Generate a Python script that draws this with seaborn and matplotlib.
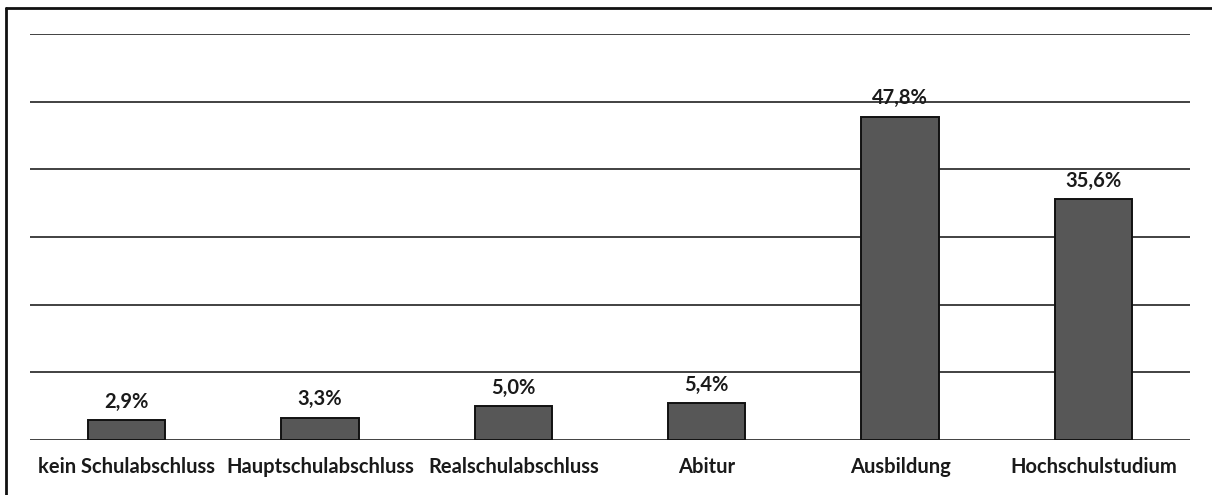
import matplotlib
matplotlib.use("Agg")
import matplotlib.pyplot as plt
from matplotlib.lines import Line2D
import seaborn as sns
import pandas as pd

categories = ["kein Schulabschluss", "Hauptschulabschluss", "Realschulabschluss",
              "Abitur", "Ausbildung", "Hochschulstudium"]
shares = [2.9, 3.3, 5.0, 5.4, 47.8, 35.6]
value_labels = ["2,9%", "3,3%", "5,0%", "5,4%", "47,8%", "35,6%"]

df = pd.DataFrame({"Abschluss": categories, "Anteil": shares})

sns.set_theme(style="white")
plt.rcParams["font.family"] = ["Lato", "DejaVu Sans"]

W, H = 1212, 495
fig = plt.figure(figsize=(W / 100, H / 100), dpi=100)
ax = fig.add_axes([30 / W, (H - 440) / H, 1160 / W, 406 / H])

sns.barplot(data=df, x="Abschluss", y="Anteil", ax=ax, color="#575757",
            width=0.4, edgecolor="#111111", linewidth=1.4, saturation=1)

ax.set_ylim(0, 60)
ax.set_xlim(-0.5, len(categories) - 0.5)
ax.set_yticks(range(0, 61, 10))
ax.yaxis.grid(True, color="#333333", linewidth=1.3)
ax.set_axisbelow(True)
ax.set_yticklabels([])
ax.tick_params(axis="y", length=0)
ax.tick_params(axis="x", length=0, pad=12, labelsize=14.5, labelcolor="#1a1a1a")
for lbl in ax.get_xticklabels():
    lbl.set_fontweight("bold")
ax.set_xlabel("")
ax.set_ylabel("")
for s in ax.spines.values():
    s.set_visible(False)

for i, (v, t) in enumerate(zip(shares, value_labels)):
    ax.annotate(t, (i, v), xytext=(0, 6), textcoords="offset points",
                ha="center", va="bottom", fontsize=14.5, fontweight="bold",
                color="#1a1a1a")

# frame edges along the top and left of the figure
fig.add_artist(Line2D([6 / W, 6 / W], [0, 1 - 8 / H], transform=fig.transFigure,
                      color="#111111", linewidth=2))
fig.add_artist(Line2D([6 / W, 1], [1 - 8 / H, 1 - 8 / H], transform=fig.transFigure,
                      color="#111111", linewidth=2))

fig.savefig("out.png", dpi=100, facecolor="white")
